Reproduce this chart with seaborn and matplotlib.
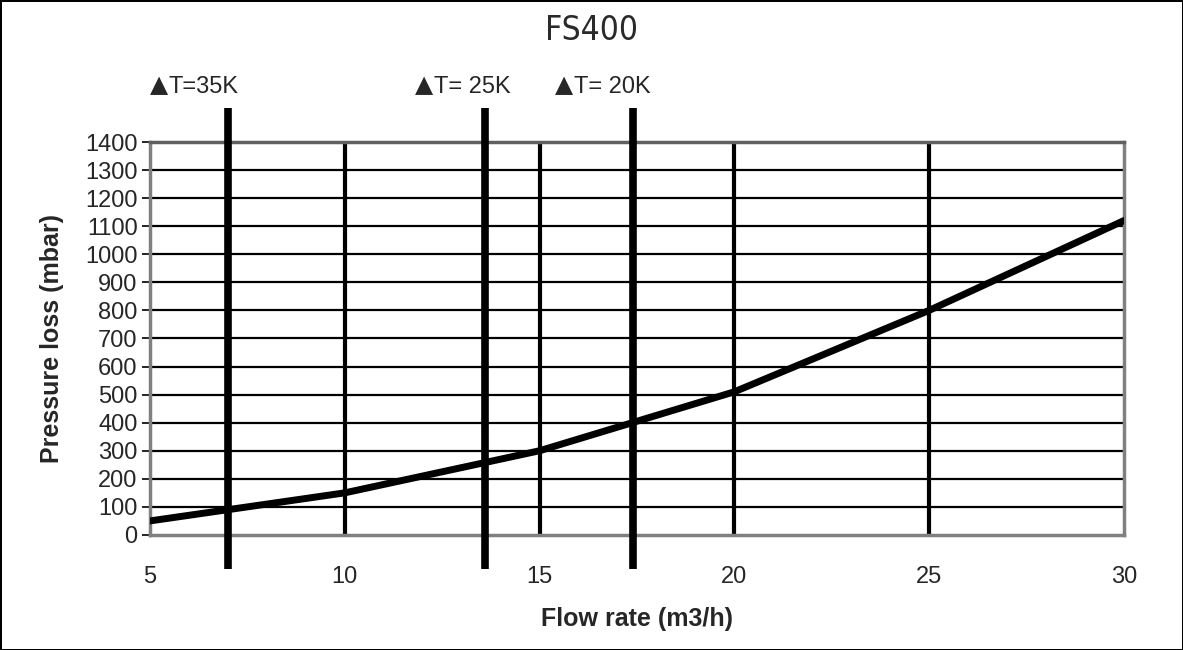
import matplotlib
matplotlib.use("Agg")
import matplotlib.pyplot as plt
import pandas as pd
import seaborn as sns

# Data
flow = [5, 10, 15, 20, 25, 30]
pressure = [50, 150, 300, 510, 800, 1120]
dt_flow = [7.0, 13.6, 17.4]
dt_labels = ["T=35K", "T= 25K", "T= 20K"]
dt_label_x = [5.0, 11.8, 15.4]
x_ticks = [5, 10, 15, 20, 25, 30]
y_ticks = list(range(0, 1401, 100))

data = pd.DataFrame({"flow": flow, "pressure": pressure})

sns.set_theme(style="white")
plt.rcParams["font.family"] = ["Liberation Sans", "DejaVu Sans"]

fig = plt.figure(figsize=(11.83, 6.5), dpi=100)
fig.patch.set_edgecolor("black")
fig.patch.set_linewidth(2)
ax = fig.add_axes([0.1268, 0.177, 0.8232, 0.6045])

# gridlines
for y in y_ticks[1:]:
    ax.axhline(y, color="black", lw=1.6, zorder=1)
for x in x_ticks[1:-1]:
    ax.axvline(x, color="black", lw=3, zorder=1)

sns.lineplot(data=data, x="flow", y="pressure", color="black", lw=5, ax=ax, zorder=3)

# delta T lines
ax.vlines(dt_flow, -120, 1520, color="black", lw=5.5, clip_on=False, zorder=4)
for x, lab in zip(dt_label_x, dt_labels):
    ax.annotate("▲", (x, 1590), xytext=(0, 2.5), textcoords="offset points",
                fontsize=17, ha="left", va="center", family="DejaVu Sans",
                annotation_clip=False)
    ax.annotate(lab, (x, 1590), xytext=(13.5, 1), textcoords="offset points",
                fontsize=17, ha="left", va="center", annotation_clip=False)

ax.set_xlim(5, 30)
ax.set_ylim(0, 1400)
ax.set_xticks(x_ticks)
ax.set_yticks(y_ticks)
ax.tick_params(axis="x", length=0, pad=22, labelsize=17)
ax.tick_params(axis="y", length=6, width=1.2, color="black", direction="out", left=True, pad=3, labelsize=17)
for side in ["left", "bottom", "right", "top"]:
    ax.spines[side].set_color("#808080")
    ax.spines[side].set_linewidth(2.5)
ax.spines["top"].set_color("#606060")

ax.set_xlabel("Flow rate (m3/h)", fontsize=18, fontweight="bold", labelpad=14)
ax.set_ylabel("Pressure loss (mbar)", fontsize=18, fontweight="bold", labelpad=15)

fig.text(0.5, 0.953, "FS400", ha="center", va="center", fontsize=24,
         color="#2a2a2a", family="DejaVu Sans", fontstretch="condensed")

fig.savefig("out.png", dpi=100)
